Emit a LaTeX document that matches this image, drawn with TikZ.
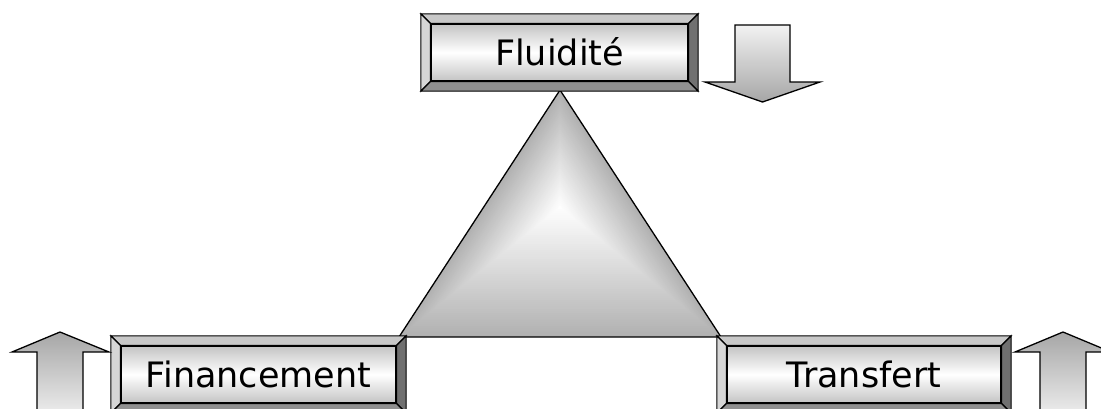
\documentclass[tikz,border=0pt]{standalone}
\usepackage{fontspec}
\setmainfont{DejaVu Sans}
\usepackage{xcolor}
\usepackage{tikz}

\definecolor{facegray}{RGB}{196,196,196}
\definecolor{bevlight}{RGB}{200,200,200}
\definecolor{bevpale}{RGB}{214,214,214}
\definecolor{bevdark}{RGB}{112,112,112}
\definecolor{bevmid}{RGB}{144,144,144}
\definecolor{trigray}{RGB}{176,176,176}
\definecolor{arrowlight}{RGB}{242,242,242}
\definecolor{arrowdark}{RGB}{166,166,166}

% four bevel faces round a face node
\newcommand{\bevel}[1]{%
  \draw[bevline, fill=bevlight] (#1.north west) -- (#1.north east) -- ([shift={(9.5pt,9.5pt)}]#1.north east) -- ([shift={(-9.5pt,9.5pt)}]#1.north west) -- cycle;
  \draw[bevline, fill=bevpale] (#1.north west) -- (#1.south west) -- ([shift={(-9.5pt,-9.5pt)}]#1.south west) -- ([shift={(-9.5pt,9.5pt)}]#1.north west) -- cycle;
  \draw[bevline, fill=bevdark] (#1.north east) -- (#1.south east) -- ([shift={(9.5pt,-9.5pt)}]#1.south east) -- ([shift={(9.5pt,9.5pt)}]#1.north east) -- cycle;
  \draw[bevline, fill=bevmid] (#1.south west) -- (#1.south east) -- ([shift={(9.5pt,-9.5pt)}]#1.south east) -- ([shift={(-9.5pt,-9.5pt)}]#1.south west) -- cycle;
}

\begin{document}
\begin{tikzpicture}[x=1pt, y=-1pt, line join=miter,
  face/.style={draw, line width=1.3pt, top color=facegray, bottom color=facegray, middle color=white,
    minimum height=57pt, inner sep=0pt, text height=25pt, text depth=0pt, font=\fontsize{35}{42}\selectfont},
  bevline/.style={draw=black, line width=1.1pt},
  outline/.style={draw=black, line width=1.3pt},
  arrowdown/.style={outline, top color=arrowlight, bottom color=arrowdark},
  arrowup/.style={outline, top color=arrowdark, bottom color=arrowlight}]
  \useasboundingbox (0,0) rectangle (1101,408);
  \clip (0,0) rectangle (1101,408);

  % triangle, shaded from its sides to the middle
  \foreach \i in {0,...,59} {
    \pgfmathsetmacro\f{1-\i/60}
    \pgfmathsetmacro\w{100*(\i/60)^0.95}
    \fill[white!\w!trigray, scale around={\f:(560,207)}] (560,90) -- (721,337) -- (399,337) -- cycle;
  }
  \coordinate (apex) at (560,90);
  \coordinate (left) at (399,337);
  \coordinate (right) at (721,337);
  \draw[outline] (apex) -- (right) -- (left) -- cycle;

  \node[face, minimum width=257pt] (fluid) at (559.5,52.5) {Fluidité};
  \node[face, minimum width=275pt] (finance) at (258.5,374.5) {Financement};
  \node[face, minimum width=274pt] (transfer) at (864,374.5) {Transfert};
  \bevel{fluid}
  \bevel{finance}
  \bevel{transfer}

  % block arrows
  \shade[arrowdown] (735,25) -- (790,25) -- (790,82) -- (820,82) -- (762.5,102) -- (705,82) -- (735,82) -- cycle;
  \shade[arrowup] (37,420) -- (37,352) -- (12,352) -- (60,332) -- (109,352) -- (83,352) -- (83,420) -- cycle;
  \shade[arrowup] (1040,420) -- (1040,352) -- (1015,352) -- (1063,332) -- (1111,352) -- (1086,352) -- (1086,420) -- cycle;
\end{tikzpicture}
\end{document}
